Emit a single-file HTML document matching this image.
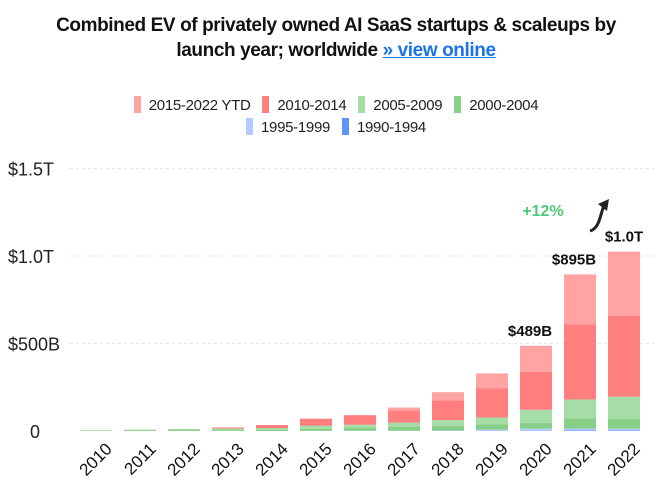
<!DOCTYPE html>
<html><head><meta charset="utf-8"><style>
body{margin:0;background:#fff;font-family:"Liberation Sans",sans-serif;}
#wrap{position:relative;width:672px;height:497px;overflow:hidden;}
.title{position:absolute;left:0;width:672px;text-align:center;font-weight:bold;font-size:19px;letter-spacing:-0.4px;color:#111;}
.title a{color:#1a73e8;text-decoration:underline;}
.leg{position:absolute;left:0;width:672px;text-align:center;font-size:15px;color:#222;letter-spacing:-0.3px;}
.leg span.item{margin:0 4px;}
.leg i{display:inline-block;width:7px;height:17px;vertical-align:-3px;margin-right:8px;}
</style></head><body>
<div id="wrap">
<div class="title" style="top:15px">Combined EV of privately owned AI SaaS startups &amp; scaleups by</div>
<div class="title" style="top:40px">launch year; worldwide <a>» view online</a></div>
<div class="leg" style="top:96px">
<span class="item"><i style="background:#ffa3a3"></i>2015-2022 YTD</span>
<span class="item"><i style="background:#ff7f7f"></i>2010-2014</span>
<span class="item"><i style="background:#a6dca6"></i>2005-2009</span>
<span class="item"><i style="background:#86cf86"></i>2000-2004</span>
</div>
<div class="leg" style="top:118px">
<span class="item"><i style="background:#b5cbff"></i>1995-1999</span>
<span class="item"><i style="background:#5f93f5"></i>1990-1994</span>
</div>
<svg id="chart" width="672" height="497" style="position:absolute;left:0;top:0"></svg>
</div>
<script>
const years=["2010","2011","2012","2013","2014","2015","2016","2017","2018","2019","2020","2021","2022"];
const s1990=[0,0,0,0,0,0,0,0,0,0,2,3,3];
const s1995=[0,0,0,0,0,1,1,2,3,8,11,11,10];
const s2000=[2,3,5,5,6,12,16,23,25,29,34,57,57];
const s2005=[3,5,7,9,11,17,19,23,34,40,74,109,126];
const s2010=[0,0,0,6,17,40,53,69,114,166,217,429,463];
const s2015=[0,0,0,0,0,0,3,17,46,86,149,286,366];
const series=[s1990,s1995,s2000,s2005,s2010,s2015];
const colors=["#5f93f5","#b5cbff","#86cf86","#a6dca6","#ff7f7f","#ffa3a3"];
const snames=["1990-1994","1995-1999","2000-2004","2005-2009","2010-2014","2015-2022"];
const tickVals=[0,500,1000,1500];
const tickLabels=["0","$500B","$1.0T","$1.5T"];
const labelIdx=[10,11,12];
const labelTxt=["$489B","$895B","$1.0T"];
const NS="http://www.w3.org/2000/svg";
const svg=document.getElementById('chart');
const base=431, pxPer=0.175, x0=96, step=44, bw=32;
const y=v=>base-v*pxPer;
const xc=i=>x0+i*step;
function mk(t,a){const e=document.createElementNS(NS,t);for(const k in a)e.setAttribute(k,a[k]);svg.appendChild(e);return e;}
tickVals.forEach((v,i)=>{
 if(i>0){const l=mk('line',{x1:70,x2:655,y1:y(v),y2:y(v),stroke:'#e6e6e6','stroke-dasharray':'3,3'});
 
 }
 const t=mk('text',{x:i==0?30:8,y:y(v)+7,'font-size':18,fill:'#222','font-family':'Liberation Sans'});
 t.textContent=tickLabels[i];
 
 
});
years.forEach((yr,i)=>{
 let acc=0;
 series.forEach((s,k)=>{
  const v=s[i]; if(v<=0)return;
  const r=mk('rect',{x:xc(i)-bw/2,y:y(acc+v),width:bw,height:v*pxPer,fill:colors[k]});
  
  
  acc+=v;
 });
 const t=mk('text',{x:0,y:0,'font-size':17,fill:'#111','text-anchor':'end',transform:`translate(${xc(i)+17},${450}) rotate(-45)`});
 t.textContent=yr;
 
 
});
const tot=i=>series.reduce((a,s)=>a+s[i],0);
labelIdx.forEach((idx,j)=>{
 const t=mk('text',{x:xc(idx)+(idx==12?0:-6),y:y(tot(idx))-10,'font-size':15,'font-weight':'bold',fill:'#111','text-anchor':'middle'});
 t.textContent=labelTxt[j];
 
 
});
const g=mk('text',{x:543,y:216,'font-size':16,'font-weight':'bold',fill:'#4cc97a','text-anchor':'middle'});
g.textContent="+12%";


const p=mk('path',{d:'M590,231 C600,228 600,214 604,206',stroke:'#222','stroke-width':3,fill:'none'});


const h=mk('polygon',{points:'609,199 598,204 607,211',fill:'#222'});


</script>
</body></html>
